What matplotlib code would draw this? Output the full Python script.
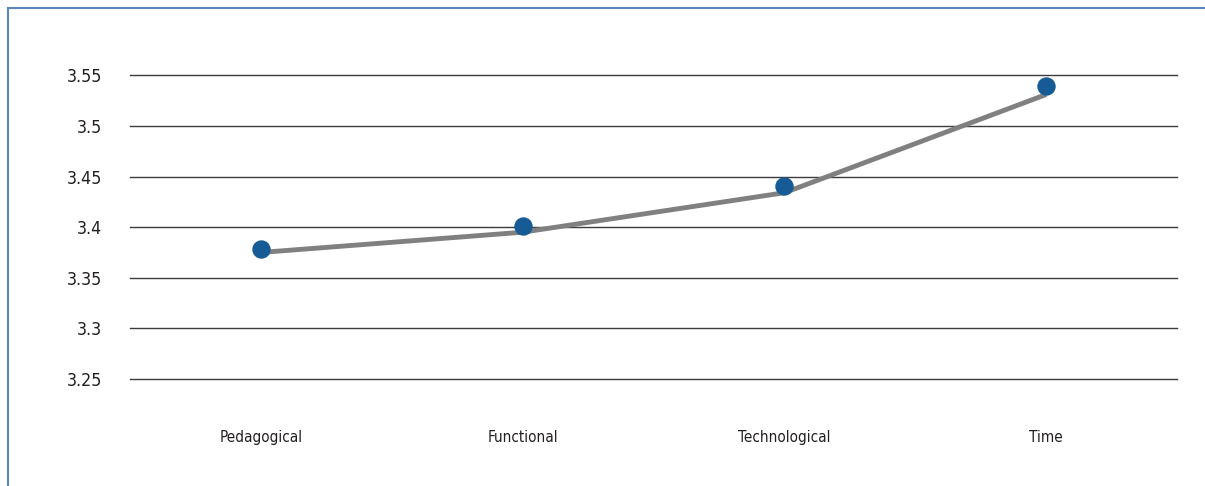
import matplotlib.pyplot as plt
from matplotlib.lines import Line2D

categories = ['Pedagogical', 'Functional', 'Technological', 'Time']
means = [3.378, 3.401, 3.441, 3.539]
trend = [3.375, 3.395, 3.434, 3.531]
yticks = [3.25, 3.3, 3.35, 3.4, 3.45, 3.5, 3.55]
ytick_labels = ['3.25', '3.3', '3.35', '3.4', '3.45', '3.5', '3.55']

plt.rcParams['font.family'] = ['DejaVu Sans']
plt.rcParams['font.stretch'] = 'condensed'

fig = plt.figure(figsize=(12.05, 4.86), dpi=100)
ax = fig.add_axes([130/1205, 1 - 379/486, 1047/1205, (379 - 75.3)/486])

x = range(len(categories))
ax.plot(x, trend, color='#808080', lw=3.5, solid_capstyle='butt', zorder=3, clip_on=False)
ax.scatter(x, means, s=150, color='#175b96', zorder=4, clip_on=False)

ax.set_xlim(-0.5, 3.5)
ax.set_ylim(3.25, 3.55)
ax.set_yticks(yticks)
ax.set_yticklabels(ytick_labels, fontsize=12.8, color='#231f20')
ax.set_xticks(list(x))
ax.set_xticklabels(categories, fontsize=11, color='#231f20')
ax.tick_params(axis='y', length=0, pad=20)
ax.tick_params(axis='x', length=0, pad=37)
ax.grid(axis='y', color='#3c3c3c', lw=1.0)
for gl in ax.get_ygridlines():
    gl.set_clip_on(False)
ax.set_axisbelow(True)
for s in ax.spines.values():
    s.set_visible(False)

# outer frame
frame_col = '#5a87b8'
fig.add_artist(Line2D([8/1205, 8/1205], [0, 1 - 8/486], transform=fig.transFigure, color=frame_col, lw=1.5))
fig.add_artist(Line2D([8/1205, 1], [1 - 8/486, 1 - 8/486], transform=fig.transFigure, color=frame_col, lw=1.5))

fig.savefig('out.png', dpi=100)
